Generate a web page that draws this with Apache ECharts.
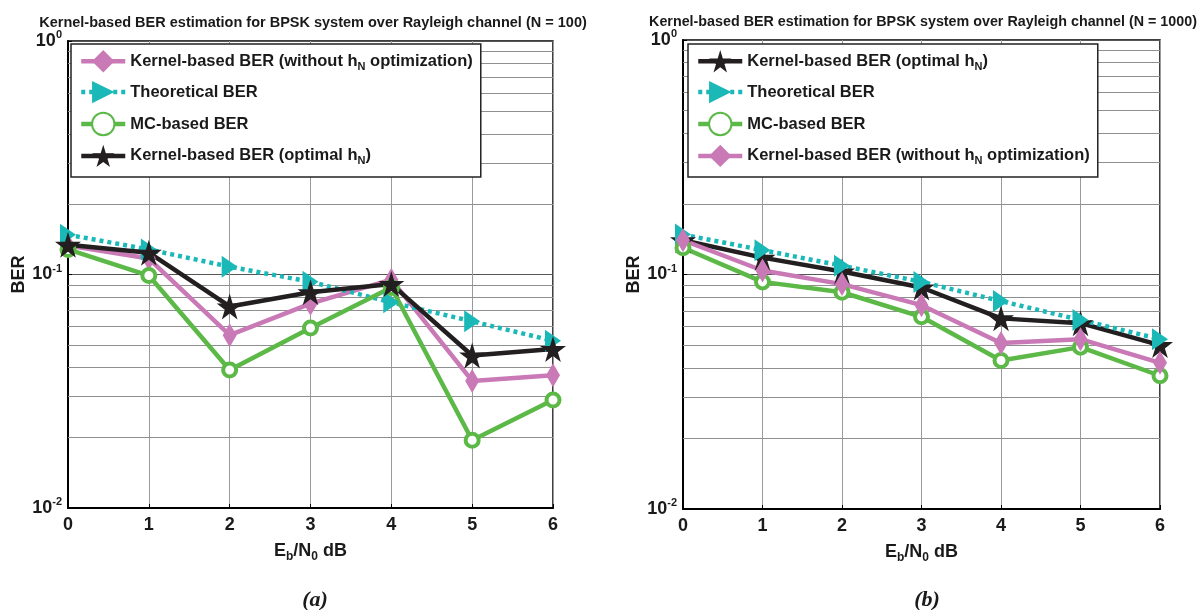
<!DOCTYPE html>
<html><head><meta charset="utf-8">
<script src="https://cdn.jsdelivr.net/npm/echarts@6/dist/echarts.min.js"></script>
<style>html,body{margin:0;padding:0;background:#fff}#c{width:1198px;height:610px}</style>
</head><body><div id="c"></div>
<script>
// ---- data ----
const ebn0 = [0, 1, 2, 3, 4, 5, 6];
const yTickVals = [0.01, 0.1, 1];
const yTickExp = ['-2', '-1', '0'];
const minorVals = [0.02,0.03,0.04,0.05,0.06,0.07,0.08,0.09,0.2,0.3,0.4,0.5,0.6,0.7,0.8,0.9];
// N = 100 (a)
const a_kernelNoOpt = [0.133, 0.117, 0.055, 0.075, 0.095, 0.035, 0.037];
const a_theory      = [0.148, 0.128, 0.108, 0.093, 0.076, 0.063, 0.052];
const a_mc          = [0.128, 0.099, 0.039, 0.059, 0.088, 0.0195, 0.029];
const a_kernelOpt   = [0.134, 0.124, 0.073, 0.084, 0.091, 0.045, 0.048];
// N = 1000 (b)
const b_kernelOpt   = [0.140, 0.118, 0.103, 0.088, 0.065, 0.062, 0.050];
const b_theory      = [0.148, 0.127, 0.109, 0.093, 0.077, 0.064, 0.053];
const b_mc          = [0.130, 0.093, 0.084, 0.066, 0.043, 0.049, 0.037];
const b_kernelNoOpt = [0.140, 0.104, 0.091, 0.074, 0.051, 0.053, 0.042];

const titleA = 'Kernel-based BER estimation for BPSK system over Rayleigh channel (N = 100)';
const titleB = 'Kernel-based BER estimation for BPSK system over Rayleigh channel (N = 1000)';
const nameNoOpt = 'noopt', nameTheory = 'theory', nameMC = 'mc', nameOpt = 'opt';
const legendText = {
  noopt: 'Kernel-based BER (without h{sub|N} optimization)',
  theory: 'Theoretical BER',
  mc: 'MC-based BER',
  opt: 'Kernel-based BER (optimal h{sub|N})'
};

const FONT = "'Liberation Sans',Arial,sans-serif";
const STAR = 'path://M50,0 L61,35 L98,35 L68,57 L79,91 L50,70 L21,91 L32,57 L2,35 L39,35 Z';
const pair = arr => arr.map((v, i) => [ebn0[i], v]);

const styles = {
  noopt: {color: '#c97ab6', symbol: 'diamond', symbolSize: [14, 24], lineType: 'solid'},
  theory: {color: '#1bb8b8', symbol: 'triangle', symbolSize: [22, 16], symbolRotate: -90, lineType: [4, 4]},
  mc: {color: '#5cb947', symbol: 'circle', symbolSize: 13, lineType: 'solid', hollow: true},
  opt: {color: '#231f20', symbol: STAR, symbolSize: 26, lineType: 'solid'}
};

function mkSeries(name, data, gi) {
  const s = styles[name];
  return {
    type: 'line', name: name, xAxisIndex: gi, yAxisIndex: gi,
    data: pair(data), symbol: s.symbol, symbolSize: s.symbolSize,
    symbolRotate: s.symbolRotate || 0, showAllSymbol: true,
    lineStyle: {color: s.color, width: 4.5, type: s.lineType, cap: 'butt'},
    itemStyle: s.hollow ? {color: '#fff', borderColor: s.color, borderWidth: 4}
                        : {color: s.color, borderColor: s.color, borderWidth: 0},
    animation: false, z: 5
  };
}
function minorSeries(gi) {
  return {
    type: 'line', name: 'minor' + gi, xAxisIndex: gi, yAxisIndex: gi, data: [], silent: true,
    markLine: {silent: true, symbol: 'none', label: {show: false}, animation: false,
      lineStyle: {color: '#8f8f8f', width: 1, type: 'solid'},
      data: minorVals.map(v => ({yAxis: v}))}
  };
}

const grids = [
  {left: 68, right: 645, top: 41, bottom: 102},
  {left: 683, right: 38, top: 40, bottom: 101}
];
function xAx(gi) {
  return {
    type: 'value', gridIndex: gi, min: 0, max: 6, interval: 1,
    axisLine: {show: true, onZero: false, lineStyle: {color: '#000', width: 2}},
    axisTick: {show: true, inside: true, length: 4, lineStyle: {color: '#000'}},
    axisLabel: {color: '#1a1a1a', fontFamily: FONT, fontWeight: 'bold', fontSize: 18, margin: 8},
    splitLine: {show: true, lineStyle: {color: '#9a9a9a', width: 1}},
    name: 'E{sub|b}/N{sub|0} dB', nameLocation: 'middle', nameGap: 31,
    nameTextStyle: {color: '#1a1a1a', fontFamily: FONT, fontWeight: 'bold', fontSize: 18,
      rich: {sub: {fontSize: 12, fontWeight: 'bold', fontFamily: FONT, padding: [12, 0, 0, 0]}}}
  };
}
function yAx(gi) {
  return {
    type: 'log', logBase: 10, gridIndex: gi, min: 0.01, max: 1,
    axisLine: {show: true, onZero: false, lineStyle: {color: '#000', width: 2}},
    axisTick: {show: true, inside: true, length: 4, lineStyle: {color: '#000'}},
    axisLabel: {color: '#1a1a1a', margin: 6, fontFamily: FONT, fontWeight: 'bold', fontSize: 18,
      formatter: v => {
        const i = yTickVals.findIndex(t => Math.abs(t - v) / t < 1e-6);
        return i < 0 ? '' : '10{sup|' + yTickExp[i] + '}';
      },
      rich: {sup: {fontSize: 11, fontWeight: 'bold', fontFamily: FONT, padding: [0, 0, 12, 0]}}},
    splitLine: {show: true, lineStyle: {color: '#555', width: 1.2}},
    name: 'BER', nameLocation: 'middle', nameGap: 34, nameRotate: 90,
    nameTextStyle: {color: '#1a1a1a', fontFamily: FONT, fontWeight: 'bold', fontSize: 18}
  };
}
function legend(gi, order, left) {
  return {
    orient: 'vertical', left: left, top: 44, data: order,
    backgroundColor: '#fff', borderColor: '#222', borderWidth: 1.5,
    padding: [6, 8, 10, 8], itemWidth: 44, itemHeight: 28, itemGap: 8.5,
    lineStyle: {width: 4.5},
    formatter: n => legendText[n],
    textStyle: {color: '#1a1a1a', fontFamily: FONT, fontWeight: 'bold', fontSize: 16.5,
      rich: {sub: {fontSize: 11, fontWeight: 'bold', fontFamily: FONT, padding: [11, 0, 0, 0]}}},
    selectedMode: false, z: 10
  };
}

const option = {
  animation: false,
  backgroundColor: '#fff',
  title: [
    {text: titleA, left: 308, top: 10, textAlign: 'center', textStyle: {fontFamily: FONT, fontWeight: 'bold', fontSize: 14.5, color: '#1a1a1a'}},
    {text: titleB, left: 918, top: 10, textAlign: 'center', textStyle: {fontFamily: FONT, fontWeight: 'bold', fontSize: 14.3, color: '#1a1a1a'}},
    {text: '(a)', left: 310, top: 584, textAlign: 'center', textStyle: {fontFamily: "'Liberation Serif',serif", fontStyle: 'italic', fontWeight: 'bold', fontSize: 22, color: '#1a1a1a'}},
    {text: '(b)', left: 922, top: 584, textAlign: 'center', textStyle: {fontFamily: "'Liberation Serif',serif", fontStyle: 'italic', fontWeight: 'bold', fontSize: 22, color: '#1a1a1a'}}
  ],
  grid: grids.map(g => Object.assign({show: true, borderColor: '#000', borderWidth: 1.5, backgroundColor: 'transparent'}, g)),
  xAxis: [xAx(0), xAx(1)],
  yAxis: [yAx(0), yAx(1)],
  legend: [
    legend(0, [nameNoOpt, nameTheory, nameMC, nameOpt], 71),
    legend(1, [nameOpt, nameTheory, nameMC, nameNoOpt], 688)
  ],
  series: [
    minorSeries(0), minorSeries(1),
    mkSeries(nameNoOpt, a_kernelNoOpt, 0),
    mkSeries(nameTheory, a_theory, 0),
    mkSeries(nameMC, a_mc, 0),
    mkSeries(nameOpt, a_kernelOpt, 0),
    mkSeries(nameOpt, b_kernelOpt, 1),
    mkSeries(nameTheory, b_theory, 1),
    mkSeries(nameMC, b_mc, 1),
    mkSeries(nameNoOpt, b_kernelNoOpt, 1)
  ]
};
const chart = echarts.init(document.getElementById('c'), null, {renderer: 'canvas'});
chart.setOption(option);
</script></body></html>
